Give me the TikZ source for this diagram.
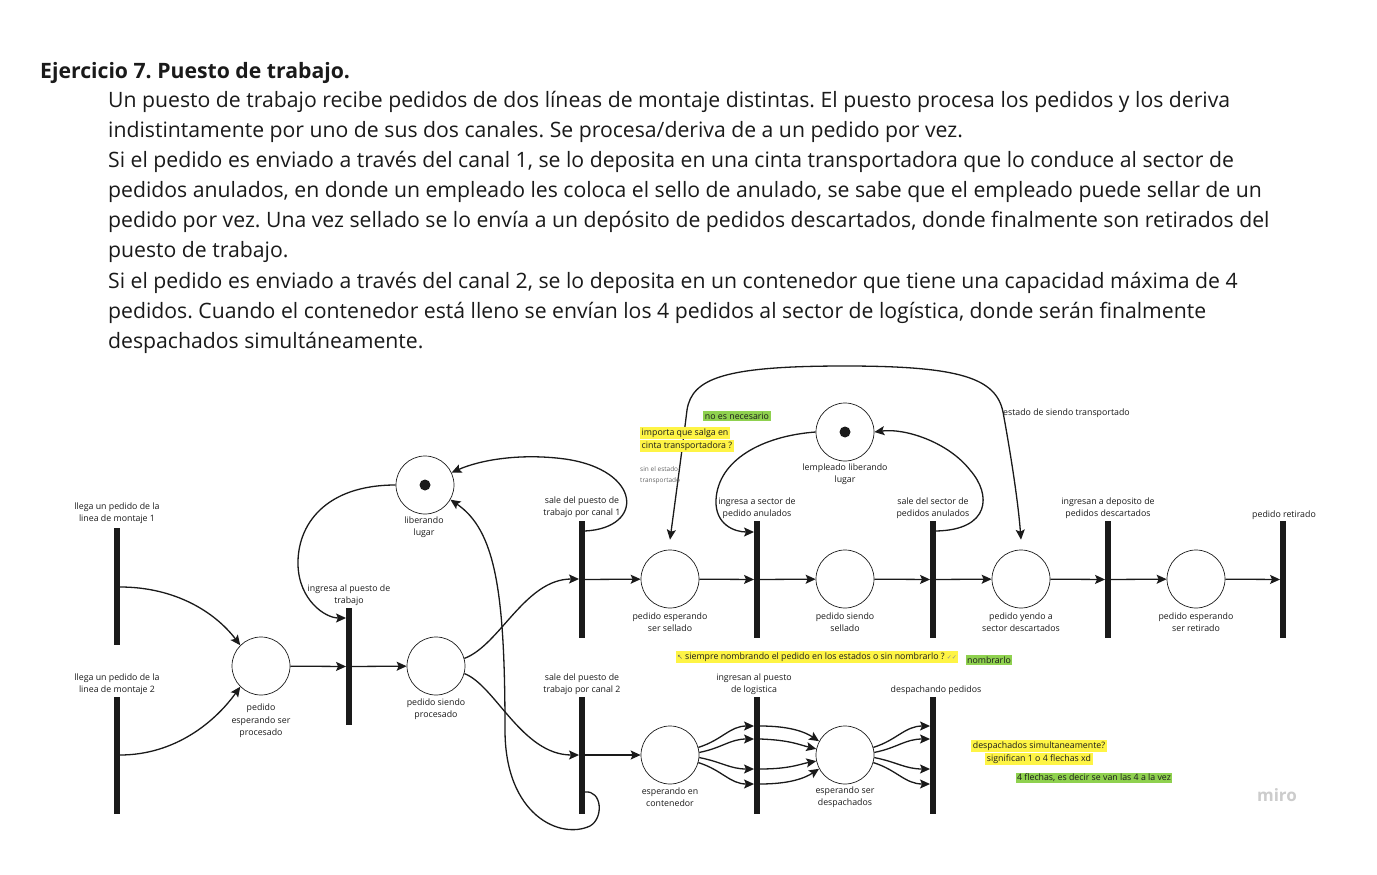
\documentclass[tikz,border=0pt]{standalone}
\usepackage{fontspec}
\setmainfont{Open Sans}
\newfontfamily\symf{DejaVu Sans}
\usetikzlibrary{arrows.meta,calc}
\definecolor{ink}{HTML}{1A1A1A}
\definecolor{myel}{HTML}{FEF445}
\definecolor{mgreen}{HTML}{8FD14F}
\frenchspacing
\begin{document}
\begin{tikzpicture}[x=1pt,y=-1pt,
  trans/.style={draw=none,fill=ink,minimum width=5.5pt,minimum height=117pt,inner sep=0pt},
  place/.style={circle,draw=ink,line width=0.7pt,minimum size=58pt,inner sep=0pt},
  tok/.style={circle,fill=ink,minimum size=11pt,inner sep=0pt},
  lbl/.style={font=\fontsize{8.8}{12.5}\selectfont,align=center,text=ink,inner sep=0pt},
  body/.style={font=\fontsize{21.2}{30}\selectfont,anchor=base west,inner sep=0pt,text=ink},
  arc/.style={draw=ink,line width=1.3pt,-{Stealth[length=10pt,width=9pt,inset=2pt]}},
  arcb/.style={draw=ink,line width=1.3pt,{Stealth[length=10pt,width=9pt,inset=2pt]}-{Stealth[length=10pt,width=9pt,inset=2pt]}},
  hy/.style={fill=myel,inner xsep=1.5pt,inner ysep=1.5pt,font=\fontsize{8.8}{12.5}\selectfont,text=ink},
  hg/.style={fill=mgreen,inner xsep=1.5pt,inner ysep=1.5pt,font=\fontsize{8.8}{12.5}\selectfont,text=ink},
]
\path[use as bounding box,fill=white] (0,0) rectangle (1377,875);

% ---------- statement ----------
\node[body,font=\fontsize{21.2}{30}\selectfont\bfseries] (title) at (40,78) {Ejercicio 7. Puesto de trabajo.};
\node[body] (l1) at (108,107) {Un puesto de trabajo recibe pedidos de dos líneas de montaje distintas. El puesto procesa los pedidos y los deriva};
\node[body] (l2) at (108,137) {indistintamente por uno de sus dos canales. Se procesa/deriva de a un pedido por vez.};
\node[body] (l3) at (108,167) {Si el pedido es enviado a través del canal 1, se lo deposita en una cinta transportadora que lo conduce al sector de};
\node[body] (l4) at (108,197) {pedidos anulados, en donde un empleado les coloca el sello de anulado, se sabe que el empleado puede sellar de un};
\node[body] (l5) at (108,227) {pedido por vez. Una vez sellado se lo envía a un depósito de pedidos descartados, donde finalmente son retirados del};
\node[body] (l6) at (108,257) {puesto de trabajo.};
\node[body] (l7) at (108,288) {Si el pedido es enviado a través del canal 2, se lo deposita en un contenedor que tiene una capacidad máxima de 4};
\node[body] (l8) at (108,318) {pedidos. Cuando el contenedor está lleno se envían los 4 pedidos al sector de logística, donde serán finalmente};
\node[body] (l9) at (108,348) {despachados simultáneamente.};

% ---------- transitions ----------
\node[trans] (T1) at (117,586.5) {};
\node[trans] (T2) at (117,755) {};
\node[trans] (T3) at (349,666.5) {};
\node[trans] (T4) at (582,579.5) {};
\node[trans] (T5) at (582,755) {};
\node[trans] (T6) at (757,579.5) {};
\node[trans] (T7) at (933,579.5) {};
\node[trans] (T8) at (1108,579.5) {};
\node[trans] (T9) at (1283,579.5) {};
\node[trans] (T10) at (757,755) {};
\node[trans] (T11) at (933,755) {};

% ---------- places ----------
\node[place] (P1) at (261,666) {};
\node[place] (P2) at (436,666) {};
\node[place] (P3) at (425,485) {};
\node[tok] (P3t) at (425,485) {};
\node[place] (P4) at (670,579) {};
\node[place] (P5) at (845,579) {};
\node[place] (P6) at (845,432) {};
\node[tok] (P6t) at (845,432) {};
\node[place] (P7) at (1021,579) {};
\node[place] (P8) at (1196,579) {};
\node[place] (P9) at (670,755) {};
\node[place] (P10) at (845,755) {};

% ---------- labels ----------
\node[lbl] (LT1) at (117,513) {llega un pedido de la\\linea de montaje 1};
\node[lbl] (LT2) at (117,684) {llega un pedido de la\\linea de montaje 2};
\node[lbl] (LT3) at (349,595) {ingresa al puesto de\\trabajo};
\node[lbl] (LT4) at (582,507) {sale del puesto de\\trabajo por canal 1};
\node[lbl] (LT5) at (582,684) {sale del puesto de\\trabajo por canal 2};
\node[lbl] (LT6) at (757,508) {ingresa a sector de\\pedido anulados};
\node[lbl] (LT7) at (933,508) {sale del sector de\\pedidos anulados};
\node[lbl] (LT8) at (1108,508) {ingresan a deposito de\\pedidos descartados};
\node[lbl] (LT9) at (1284,515) {pedido retirado};
\node[lbl] (LT10) at (754,684) {ingresan al puesto\\de logistica};
\node[lbl] (LT11) at (936,690) {despachando pedidos};
\node[lbl] (LP1) at (261,721) {pedido\\esperando ser\\procesado};
\node[lbl] (LP2) at (436,709) {pedido siendo\\procesado};
\node[lbl] (LP3) at (424,527) {liberando\\lugar};
\node[lbl] (LP4) at (670,622) {pedido esperando\\ser sellado};
\node[lbl] (LP5) at (845,622) {pedido siendo\\sellado};
\node[lbl] (LP6) at (845,474) {lempleado liberando\\lugar};
\node[lbl] (LP7) at (1021,622) {pedido yendo a\\sector descartados};
\node[lbl] (LP8) at (1196,622) {pedido esperando\\ser retirado};
\node[lbl] (LP9) at (670,797) {esperando en\\contenedor};
\node[lbl] (LP10) at (845,797) {esperando ser\\despachados};

% ---------- arcs ----------
\draw[arc] (T1.east |- 0,587) .. controls (175,587) and (215,612) .. (P1.135);
\draw[arc] (T2.east |- 0,755) .. controls (175,755) and (215,722) .. (P1.225);
\draw[arc] (P1) -- (T3);
\draw[arc] (T3) -- (P2);
\draw[arc] (P3.west) .. controls (325,485) and (297,525) .. (298,565) .. controls (299,600) and (325,618) .. (T3.west |- 0,618);
\draw[arc] (T4.east |- 0,531) .. controls (645,528) and (642,470) .. (565,459) .. controls (520,453) and (480,460) .. (P3.25);
\draw[arc] (T5.east |- 0,792) .. controls (602,790) and (604,818) .. (590,826) .. controls (560,840) and (505,815) .. (505,730) .. controls (505,590) and (495,530) .. (P3.-30);
\draw[arc] (P2.15) .. controls (500,645) and (525,579) .. (T4.west |- 0,579);
\draw[arc] (P2.-15) .. controls (495,685) and (522,755) .. (T5.west |- 0,755);
\draw[arc] (T4) -- (P4);
\draw[arc] (P4) -- (T6);
\draw[arc] (T6) -- (P5);
\draw[arc] (P5) -- (T7);
\draw[arc] (T7) -- (P7);
\draw[arc] (P7) -- (T8);
\draw[arc] (T8) -- (P8);
\draw[arc] (P8) -- (T9);
\draw[arc] (P6.west) .. controls (762,436) and (718,460) .. (716,500) .. controls (715,525) and (735,532) .. (T6.west |- 0,532);
\draw[arc] (T7.east |- 0,531) .. controls (990,530) and (992,495) .. (970,470) .. controls (948,442) and (905,428) .. (P6.east);
\draw[arcb] ([yshift=10pt]P4.north) .. controls (678,480) and (684,435) .. (687,410) .. controls (692,378) and (725,366) .. (845,366) .. controls (960,366) and (996,378) .. (1003,412) .. controls (1010,450) and (1018,500) .. ([yshift=10pt]P7.north);
\draw[arc] (T5) -- (P9);
% fan P9 -> T10
\draw[arc] (P9.15) .. controls (722,740) and (730,726) .. (T10.west |- 0,726);
\draw[arc] (P9.5) .. controls (722,748) and (730,739) .. (T10.west |- 0,739);
\draw[arc] (P9.-5) .. controls (722,762) and (730,769) .. (T10.west |- 0,769);
\draw[arc] (P9.-15) .. controls (722,770) and (730,784) .. (T10.west |- 0,784);
% fan T10 -> P10
\draw[arc] (T10.east |- 0,726) .. controls (790,726) and (805,732) .. (P10.152);
\draw[arc] (T10.east |- 0,739) .. controls (790,740) and (800,745) .. (P10.168);
\draw[arc] (T10.east |- 0,769) .. controls (790,769) and (800,764) .. (P10.192);
\draw[arc] (T10.east |- 0,784) .. controls (790,784) and (805,778) .. (P10.208);
% fan P10 -> T11
\draw[arc] (P10.15) .. controls (897,740) and (905,726) .. (T11.west |- 0,726);
\draw[arc] (P10.5) .. controls (897,748) and (905,739) .. (T11.west |- 0,739);
\draw[arc] (P10.-5) .. controls (897,762) and (905,769) .. (T11.west |- 0,769);
\draw[arc] (P10.-15) .. controls (897,770) and (905,784) .. (T11.west |- 0,784);

% ---------- annotations ----------
\node[hg] (n1) at (737,416) {no es necesario};
\node[hy,anchor=west] (n2a) at (640,433) {importa que salga en};
\node[hy,anchor=west] (n2b) at (640,446) {cinta transportadora ?};
\node[anchor=north west,inner sep=0pt,align=left,text=black!60,font=\fontsize{6.5}{11}\selectfont] (n3) at (640,466) {sin el estado\\transportado};
\node[lbl,anchor=west] (n4) at (1003,413) {estado de siendo transportado};
\node[hy] (n5) at (817,657) {{\symf\fontsize{7}{9}\selectfont\color{black!60}↖}\ siempre nombrando el pedido en los estados o sin nombrarlo ?\ {\symf\fontsize{6}{9}\selectfont\color{black!45}✓✓}};
\node[hg] (n6) at (989,660) {nombrarlo};
\node[hy] (n7a) at (1039,746) {despachados simultaneamente?};
\node[hy] (n7b) at (1039,759) {significan 1 o 4 flechas xd};
\node[hg] (n8) at (1094,778) {4 flechas, es decir se van las 4 a la vez};
\node[inner sep=0pt,text=black!20,font=\fontsize{17}{18}\selectfont\bfseries] (miro) at (1277,795) {miro};
\end{tikzpicture}
\end{document}
